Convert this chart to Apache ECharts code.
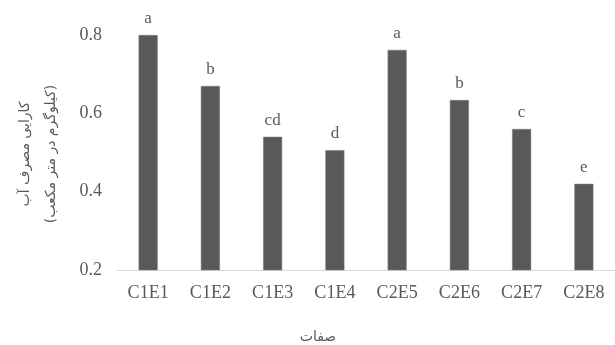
<!DOCTYPE html>
<html>
<head>
<meta charset="utf-8">
<script src="https://cdn.jsdelivr.net/npm/echarts@6/dist/echarts.min.js"></script>
<style>
  html, body { margin: 0; padding: 0; background: #fff; }
  #chart { width: 615px; height: 345px; }
</style>
</head>
<body>
<div id="chart"></div>
<script>
// Treatments and water-use efficiency values with their significance letters
const categories = ['C1E1', 'C1E2', 'C1E3', 'C1E4', 'C2E5', 'C2E6', 'C2E7', 'C2E8'];
const efficiency = [0.80, 0.67, 0.54, 0.506, 0.762, 0.634, 0.56, 0.42];
const groupLetters = ['a', 'b', 'cd', 'd', 'a', 'b', 'c', 'e'];
const yTicks = [0.2, 0.4, 0.6, 0.8];

const textColor = '#595959';
const serif = '"Liberation Serif", "DejaVu Serif", serif';
const arabic = '"DejaVu Sans", "Noto Sans", sans-serif';

const chart = echarts.init(document.getElementById('chart'), null, { renderer: 'canvas' });

chart.setOption({
  animation: false,
  backgroundColor: '#ffffff',
  grid: { left: 117, top: 35, width: 506, height: 235, containLabel: false },
  xAxis: {
    type: 'category',
    data: categories,
    axisLine: { show: true, lineStyle: { color: '#d9d9d9', width: 1 } },
    axisTick: { show: false },
    axisLabel: { color: textColor, fontFamily: serif, fontSize: 18, margin: 14 }
  },
  yAxis: {
    type: 'value',
    min: yTicks[0],
    max: yTicks[yTicks.length - 1],
    interval: 0.2,
    axisLine: { show: false },
    axisTick: { show: false },
    splitLine: { show: false },
    axisLabel: {
      color: textColor, fontFamily: serif, fontSize: 18, margin: 15,
      formatter: v => v.toFixed(1)
    }
  },
  series: [{
    type: 'bar',
    data: efficiency,
    barWidth: 19,
    itemStyle: { color: '#595959', borderColor: '#7a7a7a', borderWidth: 0.5 },
    label: {
      show: true,
      position: 'top',
      distance: 8,
      color: textColor,
      fontFamily: serif,
      fontSize: 17,
      formatter: p => groupLetters[p.dataIndex]
    }
  }],
  graphic: [
    {
      type: 'text', x: 25, y: 154, rotation: Math.PI / 2,
      style: { text: 'کارایی مصرف آب', fill: textColor, font: '14px ' + arabic, align: 'center', verticalAlign: 'middle' }
    },
    {
      type: 'text', x: 51, y: 154, rotation: Math.PI / 2,
      style: { text: '(کیلوگرم در متر مکعب)', fill: textColor, font: '14px ' + arabic, align: 'center', verticalAlign: 'middle' }
    },
    {
      type: 'text', x: 318, y: 337,
      style: { text: 'صفات', fill: textColor, font: '14px ' + arabic, align: 'center', verticalAlign: 'middle' }
    }
  ]
});
</script>
</body>
</html>
